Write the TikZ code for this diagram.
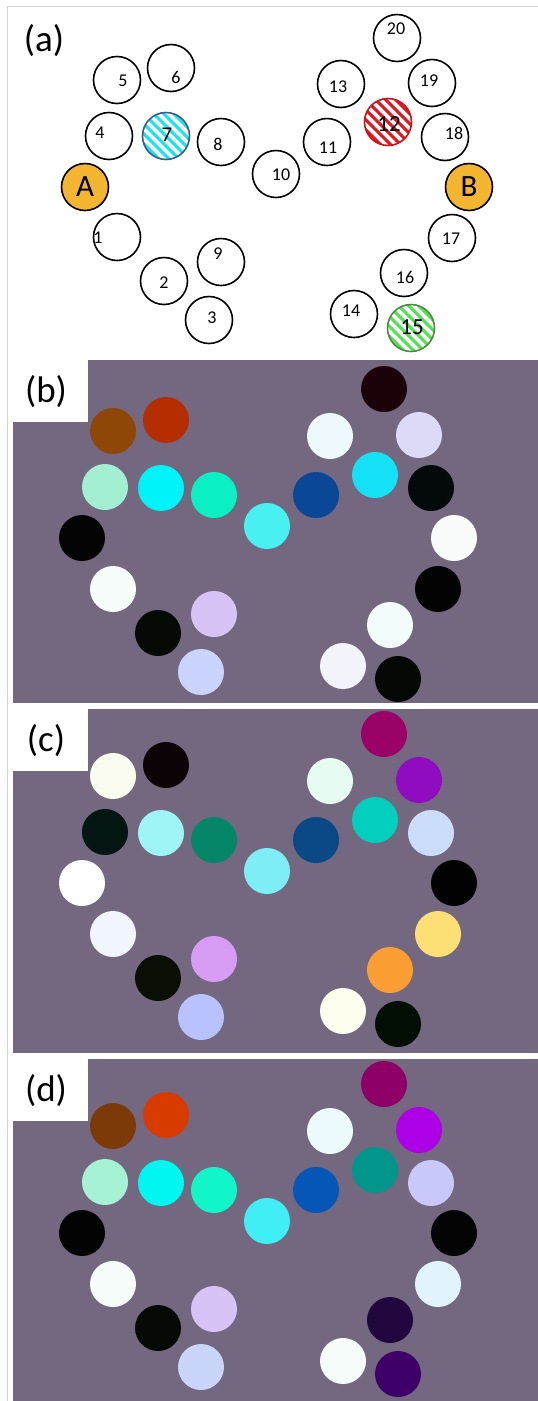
\documentclass[tikz,border=0pt]{standalone}
\usepackage{fontspec}
\setmainfont{Carlito}
\definecolor{panelbg}{HTML}{736880}
\definecolor{gold}{HTML}{F4B631}
\definecolor{framegray}{HTML}{D4D4D4}
\definecolor{hatchcyan}{HTML}{10E8F0}
\definecolor{hatchred}{HTML}{E8141C}
\definecolor{hatchgreen}{HTML}{4CE44C}
\definecolor{rimblue}{HTML}{3C5A8C}
\definecolor{rimred}{HTML}{D01018}
\definecolor{rimgreen}{HTML}{4C8C40}
\tikzset{
    ring/.style={circle, draw=black, line width=1.6pt, minimum size=47pt, inner sep=0pt},
    site/.style={ring, fill=gold, font=\fontsize{31}{31}\selectfont},
    num/.style={font=\fontsize{18}{18}\selectfont, inner sep=0pt},
    bignum/.style={font=\fontsize{23}{23}\selectfont, inner sep=0pt},
    dot/.style={circle, minimum size=46pt, inner sep=0pt},
    tag/.style={font=\fontsize{37}{37}\selectfont, inner sep=0pt},
    stripe/.style={line width=3pt}
}
\begin{document}
\begin{tikzpicture}[x=1pt, y=-1pt]
    \useasboundingbox (0,0) rectangle (538,1401);
    \draw[framegray, line width=1pt] (7,1401) -- (7,6) -- (538,6);
    % (a) striped sites
    \foreach \p/\c in {{166,136}/hatchcyan, {388,122}/hatchred, {411,328}/hatchgreen} {
        \begin{scope}[shift={(\p)}]
            \clip (0,0) circle (23.5);
            \foreach \k in {-6,...,6}
                \draw[stripe, \c] (\k*10-30,-30) -- (\k*10+30,30);
        \end{scope}
    }
    \begin{scope}
        \tikzstyle{every node}=[ring]
        \node (n1) at (117,237) {};
        \node (n2) at (164,281) {};
        \node (n3) at (209,320) {};
        \node (n4) at (109,136) {};
        \node (n5) at (117,80) {};
        \node (n6) at (171,68) {};
        \node[draw=rimblue] (n7) at (166,136) {};
        \node (n8) at (221,142) {};
        \node (n9) at (221,262) {};
        \node (n10) at (276,174) {};
        \node (n11) at (327,142) {};
        \node[draw=rimred] (n12) at (388,122) {};
        \node (n13) at (341,84) {};
        \node (n14) at (354,314) {};
        \node[draw=rimgreen] (n15) at (411,328) {};
        \node (n16) at (404,273) {};
        \node (n17) at (452,238) {};
        \node (n18) at (445,137) {};
        \node (n19) at (432,83) {};
        \node (n20) at (397,38) {};
        \node[site] (nA) at (85,187) {A};
        \node[site] (nB) at (469,187) {B};
    \end{scope}
    \begin{scope}
        \tikzstyle{every node}=[num]
        \node (t1) at (98,238) {1};
        \node (t2) at (164,283) {2};
        \node (t3) at (212,318) {3};
        \node (t4) at (100,133) {4};
        \node (t5) at (123,81) {5};
        \node (t6) at (176,77) {6};
        \node[font=\fontsize{21}{21}\selectfont] (t7) at (167,135) {7};
        \node (t8) at (218,144) {8};
        \node (t9) at (218,254) {9};
        \node (t10) at (281,175) {10};
        \node (t11) at (328,148) {11};
        \node[bignum] (t12) at (389,124) {12};
        \node (t13) at (338,87) {13};
        \node (t14) at (351,311) {14};
        \node[bignum] (t15) at (412,327) {15};
        \node (t16) at (405,277) {16};
        \node (t17) at (451,239) {17};
        \node (t18) at (454,133) {18};
        \node (t19) at (429,81) {19};
        \node (t20) at (396,29) {20};
    \end{scope}
    \node[tag] (la) at (44,41) {(a)};
    % (b)-(d) panels
    \foreach \top/\bot/\l in {360/703/b, 709/1053/c, 1059/1401/d} {
        \fill[panelbg] (13,\top) rectangle (538,\bot);
        \fill[white] (13,\top) rectangle (88,\top+62);
        \node[tag] (l\l) at (46,\top+32) {(\l)};
    }
    \foreach \n/\x/\y in {1/113/589, 2/158/633, 3/201/672, 4/105/487, 5/113/431,
        6/166/420, 7/161/488, 8/214/495, 9/214/614, 10/267/526, 11/316/495,
        12/375/475, 13/330/436, 14/343/666, 15/398/679, 16/390/625, 17/438/589,
        18/431/488, 19/419/435, 20/384/389, A/82/538, B/454/538}
        \coordinate (p\n) at (\x,\y);
    \foreach \n/\h in {1/F6FDFB, 2/050A05, 3/C9D3FB, 4/A3EFD2, 5/8F4708, 6/B42E02,
        7/00F3F8, 8/0AF0C2, 9/D8C3F6, 10/48F0F2, 11/0A4796, 12/14E0F6, 13/EDF9FC,
        14/F2F3FB, 15/060806, 16/F2FCFD, 17/030304, 18/04090C, 19/DDDAF8,
        20/1A0208, A/040404, B/FAFCFC} {
        \definecolor{dotfill}{HTML}{\h}
        \node[dot, fill=dotfill] (b\n) at (p\n) {};
    }
    \foreach \n/\h in {1/F1F5FD, 2/0B0E05, 3/B8C2FC, 4/041612, 5/FBFCF0, 6/0C0306,
        7/9FF5F6, 8/058668, 9/D79DF5, 10/7DEEF5, 11/0A4886, 12/02CFBE, 13/E6FBF2,
        14/FEFDEE, 15/030E05, 16/FB9F35, 17/FCDF75, 18/CCDDFB, 19/900CC0,
        20/9A0268, A/FEFEFE, B/020202} {
        \definecolor{dotfill}{HTML}{\h}
        \node[dot, fill=dotfill] (c\n) at ([yshift=-345pt]p\n) {};
    }
    \foreach \n/\h in {1/F6FDFB, 2/050A05, 3/C9D6FA, 4/A6F2D5, 5/7C3A08, 6/D83B00,
        7/00F7F0, 8/10F6C8, 9/D8C3F6, 10/40EEF6, 11/0656B8, 12/00968C, 13/EEFBFC,
        14/F6FDFB, 15/3E0068, 16/22073E, 17/E1F4FD, 18/C8C8FA, 19/AE00E6,
        20/8E0066, A/030303, B/040404} {
        \definecolor{dotfill}{HTML}{\h}
        \node[dot, fill=dotfill] (d\n) at ([yshift=-695pt]p\n) {};
    }
\end{tikzpicture}
\end{document}
